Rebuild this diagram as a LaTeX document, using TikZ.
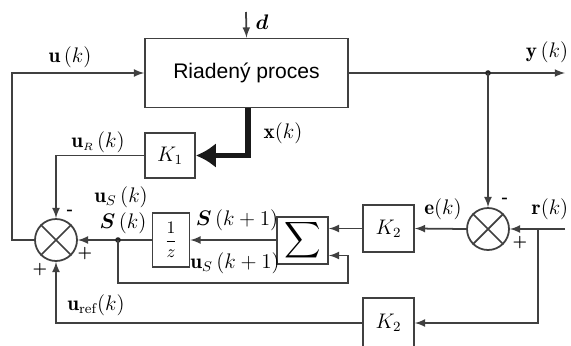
\documentclass[tikz,border=0pt]{standalone}
\usepackage{amsmath}
\usepackage{fontspec}
\newfontfamily\procfont{Liberation Sans}
\usetikzlibrary{arrows.meta}

\begin{document}
\begin{tikzpicture}[x=0.02cm,y=-0.02cm,
  blok/.style={draw=black!75,line width=1pt,minimum width=1.02cm,minimum height=0.94cm,inner sep=0pt},
  sucet/.style={draw=black!75,line width=1pt,circle,minimum size=0.84cm,inner sep=0pt},
  sig/.style={-latex,line width=1pt,draw=black!75},
  lab/.style={font=\large},
  znak/.style={font=\small\bfseries}]

\useasboundingbox (0,0) rectangle (571,345);

\node[blok,minimum width=4.06cm,minimum height=1.38cm,font=\procfont\large] at (246.5,73) (P) {Riadený proces};
\node[blok,minimum width=1cm,minimum height=0.9cm] at (170,155.5) (K1) {\large$K_1$};
\node[sucet] at (56,240) (SL) {};
\node[blok,minimum width=0.74cm,minimum height=1.08cm] at (171,240) (Z) {$\displaystyle\frac{1}{z}$};
\node[blok] at (302.5,240.5) (Sig) {\Large$\displaystyle\sum$};
\node[blok] at (388.5,228.5) (K2) {\large$K_2$};
\node[sucet] at (488,229) (SR) {};
\node[blok,minimum height=1cm] at (388.5,323) (K2r) {\large$K_2$};

\draw[black!75,line width=1pt] (SL.north east) -- (SL.south west) (SL.north west) -- (SL.south east);
\draw[black!75,line width=1pt] (SR.north east) -- (SR.south west) (SR.north west) -- (SR.south east);

\coordinate (D) at (246,12);
\coordinate (Y) at (488,73);
\coordinate (Yend) at (565,73);
\coordinate (R) at (565,229);
\coordinate (Rj) at (538,229);
\coordinate (Sd) at (118,240);
\coordinate (Fb) at (348,283);
\coordinate (U) at (12,240);

\draw[sig] (D) -- (P.north);
\draw[sig] (P.east) -- (Yend);
\fill[black!85] (Y) circle (1.6pt);
\draw[sig] (Y) -- (SR.north);
\draw[sig] (R) -- (SR.east);
\draw[sig] (Rj) |- (K2r.east);
\draw[sig] (SR.west) -- (K2.east);
\draw[sig] (K2.west) -- (K2.west -| Sig.east);
\draw[sig] (Sig.west |- Z.east) -- (Z.east);
\draw[sig] (Z.west) -- (SL.east);
\fill[black!85] (Sd) circle (1.6pt);
\draw[sig] (Sd) |- (Fb) |- ([yshift=-0.3cm]Sig.east);
\draw[sig] (SL.west) -- (U) |- (P.west);
\draw[sig] (K1.west) -| (SL.north);
\draw[sig] (K2r.west) -| (SL.south);
\draw[-{Latex[length=4mm,width=5mm]},line width=3pt,black!90] (P.south -| 248,0) |- (K1.east);

\node at (262,22) (ld) {\large$\boldsymbol{d}$};
\node[lab] at (70,57) (lu) {$\mathbf{u}\,(k)$};
\node[lab] at (547,52) (ly) {$\mathbf{y}\,(k)$};
\node[lab] at (283,133) (lx) {$\mathbf{x}(k)$};
\node[lab] at (98,142) (luR) {$\mathbf{u}_{\scriptscriptstyle R}\,(k)$};
\node[lab] at (121,197) (luS) {$\mathbf{u}_{S}\,(k)$};
\node[lab] at (123,223) (lS) {$\boldsymbol{S}\,(k)$};
\node[lab] at (237,220) (lS1) {$\boldsymbol{S}\,(k+1)$};
\node[lab] at (235,263) (luS1) {$\mathbf{u}_{S}\,(k+1)$};
\node[lab] at (96,305) (luref) {$\mathbf{u}_{\mathrm{ref}}(k)$};
\node[lab] at (443,209) (le) {$\mathbf{e}(k)$};
\node[lab] at (550,209) (lr) {$\mathbf{r}(k)$};

\node[znak] at (70,212) (mL) {-};
\node[znak] at (85,254) (pL1) {+};
\node[znak] at (40,270) (pL2) {+};
\node[znak] at (505,200) (mR) {-};
\node[znak] at (520,243) (pR) {+};

\end{tikzpicture}
\end{document}
